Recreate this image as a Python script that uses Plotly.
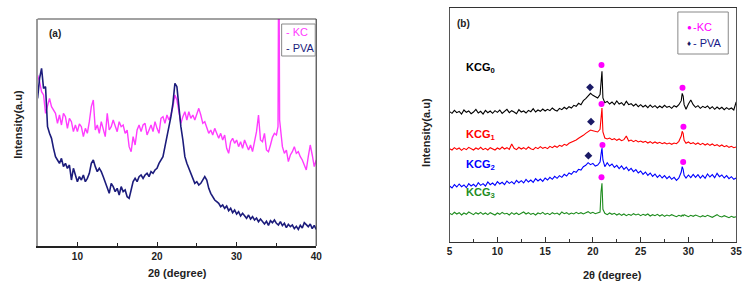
import plotly.graph_objects as go

# ---------------- Panel (a) data ----------------
two_theta_pva = [
    5.00, 5.25, 5.50, 5.75, 6.00, 6.25, 6.50, 6.75,
    7.00, 7.25, 7.50, 7.75, 8.00, 8.25, 8.50, 8.75,
    9.00, 9.25, 9.50, 9.75, 10.00, 10.25, 10.50, 10.75,
    11.00, 11.25, 11.50, 11.75, 12.00, 12.25, 12.50, 12.75,
    13.00, 13.25, 13.50, 13.75, 14.00, 14.25, 14.50, 14.75,
    15.00, 15.25, 15.50, 15.75, 16.00, 16.25, 16.50, 16.75,
    17.00, 17.25, 17.50, 17.75, 18.00, 18.25, 18.50, 18.75,
    19.00, 19.25, 19.50, 19.75, 20.00, 20.25, 20.50, 20.75,
    21.00, 21.25, 21.50, 21.75, 22.00, 22.25, 22.50, 22.75,
    23.00, 23.25, 23.50, 23.75, 24.00, 24.25, 24.50, 24.75,
    25.00, 25.25, 25.50, 25.75, 26.00, 26.25, 26.50, 26.75,
    27.00, 27.25, 27.50, 27.75, 28.00, 28.25, 28.50, 28.75,
    29.00, 29.25, 29.50, 29.75, 30.00, 30.25, 30.50, 30.75,
    31.00, 31.25, 31.50, 31.75, 32.00, 32.25, 32.50, 32.75,
    33.00, 33.25, 33.50, 33.75, 34.00, 34.25, 34.50, 34.75,
    35.00, 35.25, 35.50, 35.75, 36.00, 36.25, 36.50, 36.75,
    37.00, 37.25, 37.50, 37.75, 38.00, 38.25, 38.50, 38.75,
    39.00, 39.25, 39.50, 39.75, 40.00,
]
pva_intensity = [
    445, 505, 535, 475, 480, 360, 340, 325,
    295, 270, 260, 250, 265, 240, 250, 235,
    245, 200, 235, 215, 195, 210, 200, 215,
    195, 205, 220, 250, 260, 240, 225, 235,
    225, 210, 195, 175, 160, 190, 180, 165,
    175, 155, 180, 165, 170, 150, 145, 170,
    195, 205, 195, 210, 215, 205, 215, 220,
    210, 225, 220, 230, 235, 250, 260, 270,
    300, 330, 355, 390, 430, 490, 480, 410,
    360, 320, 270, 250, 235, 215, 200, 190,
    195, 185, 190, 200, 210, 200, 175, 160,
    150, 140, 135, 130, 120, 125, 115, 122,
    108, 115, 102, 110, 98, 105, 92, 100,
    93, 85, 95, 83, 90, 80, 86, 75,
    83, 77, 68, 76, 64, 78, 72, 80,
    70, 65, 75, 63, 70, 57, 67, 60,
    65, 54, 61, 52, 64, 56, 72, 66,
    60, 68, 54, 64, 52,
]

two_theta_kc = [
    5.00, 5.25, 5.50, 5.75, 6.00, 6.25, 6.50, 6.75,
    7.00, 7.25, 7.50, 7.75, 8.00, 8.25, 8.50, 8.75,
    9.00, 9.25, 9.50, 9.75, 10.00, 10.25, 10.50, 10.75,
    11.00, 11.25, 11.50, 11.75, 12.00, 12.25, 12.50, 12.75,
    13.00, 13.25, 13.50, 13.75, 14.00, 14.25, 14.50, 14.75,
    15.00, 15.25, 15.50, 15.75, 16.00, 16.25, 16.50, 16.75,
    17.00, 17.25, 17.50, 17.75, 18.00, 18.25, 18.50, 18.75,
    19.00, 19.25, 19.50, 19.75, 20.00, 20.25, 20.50, 20.75,
    21.00, 21.25, 21.50, 21.75, 22.00, 22.25, 22.50, 22.75,
    23.00, 23.25, 23.50, 23.75, 24.00, 24.25, 24.50, 24.75,
    25.00, 25.25, 25.50, 25.75, 26.00, 26.25, 26.50, 26.75,
    27.00, 27.25, 27.50, 27.75, 28.00, 28.25, 28.50, 28.75,
    29.00, 29.25, 29.50, 29.75, 30.00, 30.25, 30.50, 30.75,
    31.00, 31.25, 31.50, 31.75, 32.00, 32.25, 32.50, 32.75,
    33.00, 33.25, 33.50, 33.75, 34.00, 34.25, 34.50, 34.75,
    35.00, 35.20, 35.30, 35.40, 35.60,
    35.75, 36.00, 36.25, 36.50, 36.75,
    37.00, 37.25, 37.50, 37.75, 38.00, 38.25, 38.50, 38.75,
    39.00, 39.25, 39.50, 39.75, 40.00,
]
kc_intensity = [
    515, 495, 465, 455, 400, 420, 445, 420,
    410, 400, 370, 395, 365, 400, 390, 355,
    385, 375, 345, 365, 345, 368, 360, 330,
    355, 340, 375, 420, 440, 350, 365, 340,
    375, 355, 330, 400, 350, 360, 380, 362,
    345, 375, 360, 365, 340, 350, 300, 285,
    330, 305, 350, 365, 345, 365, 370, 335,
    350, 365, 345, 375, 355, 340, 385, 390,
    370, 395, 380, 395, 420, 455, 440, 400,
    370, 390, 405, 380, 405, 385, 395, 380,
    395, 415, 395, 370, 375, 360, 340, 350,
    335, 355, 340, 325, 340, 320, 335, 295,
    280, 315, 325, 310, 320, 300, 315, 295,
    320, 305, 290, 305, 285, 315, 345, 395,
    320, 315, 340, 290, 285, 305, 328, 340,
    335, 360, 1000, 380, 330,
    300, 280, 290, 255, 275,
    285, 300, 280, 285, 270, 260, 245, 230,
    270, 305, 275, 240, 260,
]

# ---------------- Panel (b) data ----------------
two_theta_b = [
    5.00, 5.25, 5.50, 5.75, 6.00, 6.25, 6.50, 6.75,
    7.00, 7.25, 7.50, 7.75, 8.00, 8.25, 8.50, 8.75,
    9.00, 9.25, 9.50, 9.75, 10.00, 10.25, 10.50, 10.75,
    11.00, 11.25, 11.50, 11.75, 12.00, 12.25, 12.50, 12.75,
    13.00, 13.25, 13.50, 13.75, 14.00, 14.25, 14.50, 14.75,
    15.00, 15.25, 15.50, 15.75, 16.00, 16.25, 16.50, 16.75,
    17.00, 17.25, 17.50, 17.75, 18.00, 18.25, 18.50, 18.75,
    19.00, 19.25, 19.50, 19.75, 20.00, 20.25, 20.50, 20.75,
    20.85, 20.95, 21.05,
    21.25, 21.50, 21.75, 22.00, 22.25, 22.50, 22.75, 23.00,
    23.25, 23.50, 23.75, 24.00, 24.25, 24.50, 24.75, 25.00,
    25.25, 25.50, 25.75, 26.00, 26.25, 26.50, 26.75, 27.00,
    27.25, 27.50, 27.75, 28.00, 28.25, 28.50, 28.75, 29.00,
    29.25,
    29.35, 29.45, 29.55,
    29.75, 30.00, 30.25, 30.50, 30.75, 31.00, 31.25, 31.50,
    31.75, 32.00, 32.25, 32.50, 32.75, 33.00, 33.25, 33.50,
    33.75, 34.00, 34.25, 34.50, 34.75, 35.00,
]
kcg0 = [
    391, 386, 395, 388, 392, 384, 396, 389,
    393, 385, 390, 398, 387, 392, 384, 395,
    388, 393, 386, 394, 389, 396, 386, 392,
    398, 388, 394, 390, 385, 397, 390, 393,
    387, 395, 391, 400, 390, 396, 392, 399,
    393, 398, 394, 402, 396, 393, 401, 397,
    404, 399, 406, 402, 410, 407, 416, 412,
    424, 430, 438, 446, 440, 436, 432, 442,
    495, 512, 432,
    418, 422, 414, 420, 412, 423, 414, 418,
    410, 422, 412, 415, 408, 414, 406, 412,
    405, 410, 403, 411, 404, 409, 402, 408,
    403, 410, 404, 407, 401, 409, 405, 412,
    424,
    446, 438, 412,
    398, 414, 426, 412, 404, 409, 401, 407,
    403, 408, 400, 406, 398, 405, 399, 404,
    397, 403, 398, 402, 396, 420,
]
kcg1 = [
    280, 276, 283, 278, 282, 275, 281, 277,
    284, 279, 276, 282, 278, 284, 277, 281,
    276, 283, 279, 276, 282, 278, 285, 279,
    283, 278, 294, 281, 277, 284, 279, 283,
    278, 285, 280, 277, 284, 280, 286, 281,
    284, 280, 287, 283, 288, 284, 290, 287,
    293, 290, 296, 299, 302, 306, 311, 315,
    320, 326, 331, 336, 334, 332, 330, 338,
    380, 402, 330,
    312, 309, 312, 307, 310, 305, 309, 304,
    307, 318, 303, 306, 301, 305, 300, 303,
    299, 302, 297, 301, 296, 300, 296, 299,
    295, 298, 294, 297, 293, 297, 295, 302,
    318,
    332, 326, 305,
    296, 300, 295, 298, 293, 297, 292, 296,
    291, 295, 290, 294, 289, 292, 287, 291,
    286, 289, 284, 287, 283, 285,
]
kcg2 = [
    168, 162, 172, 165, 174, 166, 171, 163,
    175, 168, 173, 166, 178, 170, 175, 168,
    180, 172, 177, 170, 181, 174, 179, 172,
    183, 176, 181, 174, 185, 178, 184, 177,
    188, 180, 186, 179, 190, 183, 189, 182,
    192, 186, 194, 188, 197, 191, 199, 194,
    203, 198, 207, 203, 212, 209, 218, 216,
    226, 230, 238, 232, 236, 228, 231, 240,
    262, 282, 246,
    226, 238, 228, 234, 224, 230, 220, 228,
    218, 225, 214, 221, 211, 217, 207, 213,
    203, 210, 200, 207, 197, 204, 194, 201,
    192, 199, 190, 197, 188, 194, 185, 192,
    210,
    226, 218, 200,
    192, 201, 193, 203, 194, 202, 192, 200,
    191, 204, 195, 202, 193, 206, 196, 201,
    192, 199, 190, 196, 188, 192,
]
kcg3 = [
    86, 82, 89, 84, 88, 81, 87, 83,
    90, 85, 82, 88, 84, 89, 83, 87,
    82, 88, 85, 81, 87, 83, 89, 84,
    86, 81, 88, 83, 87, 82, 86, 90,
    84, 88, 83, 86, 81, 87, 84, 89,
    83, 86, 82, 88, 84, 87, 82, 90,
    85, 88, 83, 87, 84, 89, 85, 88,
    84, 87, 91, 86, 89, 85, 88, 90,
    150, 176, 98,
    86, 82, 87, 83, 86, 81, 85, 80,
    84, 79, 83, 80, 85, 81, 84, 79,
    83, 80, 84, 78, 82, 79, 83, 78,
    82, 77, 81, 78, 82, 79, 76, 80,
    77,
    81, 78, 82,
    79, 76, 80, 77, 81, 78, 75, 79,
    76, 80, 77, 74, 78, 82, 77, 75,
    79, 76, 73, 77, 74, 76,
]

# peak markers (panel b)
kc_mark_x = [20.9, 29.38, 20.9, 29.48, 21.0, 29.45, 20.9]
kc_mark_y = [531, 463, 414, 346, 291, 240, 194]
pva_mark_x = [19.7, 19.8, 19.53]
pva_mark_y = [464, 361, 259]

# sample labels (panel b)
sample_names = ["KCG<sub>0</sub>", "KCG<sub>1</sub>", "KCG<sub>2</sub>", "KCG<sub>3</sub>"]
sample_colors = ["#000000", "#ff0000", "#0000ff", "#1e8c1e"]
sample_label_y = [522, 321, 231, 147]

assert len(two_theta_pva) == len(pva_intensity)
assert len(two_theta_kc) == len(kc_intensity)
for s in (kcg0, kcg1, kcg2, kcg3):
    assert len(s) == len(two_theta_b)

FONT = "Liberation Sans, Arial, sans-serif"
KC_A = "#ff3cff"
PVA_A = "#1c1c7c"

fig = go.Figure()
fig.add_trace(go.Scatter(x=two_theta_kc, y=kc_intensity, mode="lines",
                         line=dict(color=KC_A, width=1.4), xaxis="x", yaxis="y"))
fig.add_trace(go.Scatter(x=two_theta_pva, y=pva_intensity, mode="lines",
                         line=dict(color=PVA_A, width=1.6), xaxis="x", yaxis="y"))

for ys, c in zip((kcg0, kcg1, kcg2, kcg3), sample_colors):
    fig.add_trace(go.Scatter(x=two_theta_b, y=ys, mode="lines",
                             line=dict(color=c, width=1.1), xaxis="x2", yaxis="y2"))

fig.add_trace(go.Scatter(x=kc_mark_x, y=kc_mark_y, mode="markers",
                         marker=dict(color="#ff00ff", size=6, symbol="circle"),
                         xaxis="x2", yaxis="y2"))
fig.add_trace(go.Scatter(x=pva_mark_x, y=pva_mark_y, mode="markers",
                         marker=dict(color="#1a1a66", size=6, symbol="diamond"),
                         xaxis="x2", yaxis="y2"))

tickfont = dict(family=FONT, size=10, color="#222", weight="bold")

fig.update_layout(
    width=756, height=288,
    margin=dict(l=0, r=0, t=0, b=0),
    paper_bgcolor="white", plot_bgcolor="white",
    showlegend=False,
    xaxis=dict(domain=[35 / 756, 317 / 756], range=[5, 40], anchor="y",
               showline=True, linecolor="#222", linewidth=1.5,
               ticks="inside", tick0=0, dtick=10, ticklen=4, tickcolor="#222",
               minor=dict(tick0=0, dtick=5, ticks="inside", ticklen=3, tickcolor="#222"),
               showgrid=False, zeroline=False, tickfont=tickfont),
    yaxis=dict(domain=[42 / 288, 269 / 288], range=[2, 683], anchor="x",
               showline=True, linecolor="#9a9a9a", linewidth=1.5,
               showticklabels=False, ticks="", showgrid=False, zeroline=False),
    xaxis2=dict(domain=[452 / 756, 742 / 756], range=[5, 35], anchor="y2",
                showline=True, mirror=True, linecolor="#333", linewidth=1.2,
                ticks="inside", tick0=0, dtick=5, ticklen=5, tickcolor="#333",
                minor=dict(tick0=0, dtick=2.5, ticks="inside", ticklen=3, tickcolor="#333"),
                showgrid=False, zeroline=False, tickfont=tickfont),
    yaxis2=dict(domain=[46 / 288, 280 / 288], range=[0, 702], anchor="x2",
                showline=True, mirror=True, linecolor="#555", linewidth=1.2,
                showticklabels=False, ticks="", showgrid=False, zeroline=False),
)

shapes = [
    # panel (a) top and right frame
    dict(type="line", xref="paper", yref="paper", x0=35 / 756, x1=317 / 756,
         y0=269 / 288, y1=269 / 288, line=dict(color="#444", width=1.2)),
    dict(type="line", xref="paper", yref="paper", x0=317 / 756, x1=317 / 756,
         y0=42 / 288, y1=269 / 288, line=dict(color="#444", width=1.2)),
    # legend boxes
    dict(type="rect", xref="paper", yref="paper", x0=282 / 756, x1=316 / 756,
         y0=(288 - 56) / 288, y1=(288 - 24) / 288,
         line=dict(color="#888", width=1), fillcolor="white"),
    dict(type="rect", xref="paper", yref="paper", x0=683 / 756, x1=734 / 756,
         y0=(288 - 54) / 288, y1=(288 - 12) / 288,
         line=dict(color="#888", width=1), fillcolor="white"),
]
fig.update_layout(shapes=shapes)


def pa(text, xpx, ypx, size=11, color="#222", bold=True, angle=0, xanchor="center"):
    return dict(text=text, xref="paper", yref="paper", x=xpx / 756, y=(288 - ypx) / 288,
                showarrow=False, xanchor=xanchor, yanchor="middle", textangle=angle,
                font=dict(family=FONT, size=size, color=color,
                          weight="bold" if bold else "normal"))


ann = [
    pa("2θ (degree)", 177, 273, size=11),
    pa("2θ (degree)", 617, 275, size=11),
    pa("Intensity(a.u)", 15, 124, size=11, angle=-90),
    pa("Intensity(a.u)", 428, 132, size=11, angle=-90),
    pa("(a)", 53, 33, size=10),
    pa("(b)", 466, 23, size=10),
    pa("- KC", 284, 32, size=11, color=KC_A, bold=False, xanchor="left"),
    pa("- PVA", 284, 48, size=11, color=PVA_A, bold=False, xanchor="left"),
    pa("●", 690, 27, size=8, color="#ff00ff", bold=False, xanchor="left"),
    pa("-KC", 696, 27, size=11, color="#ff00ff", bold=False, xanchor="left"),
    pa("♦", 690, 43, size=8, color="#1a1a66", bold=False, xanchor="left"),
    pa("- PVA", 696, 43, size=11, color="#1a1a88", bold=False, xanchor="left"),
]
for name, c, yv in zip(sample_names, sample_colors, sample_label_y):
    ann.append(dict(text=name, xref="x2", yref="y2", x=6.5, y=yv, showarrow=False,
                    xanchor="left", yanchor="middle",
                    font=dict(family=FONT, size=11, color=c, weight="bold")))
fig.update_layout(annotations=ann)

fig.write_html("out.html")
